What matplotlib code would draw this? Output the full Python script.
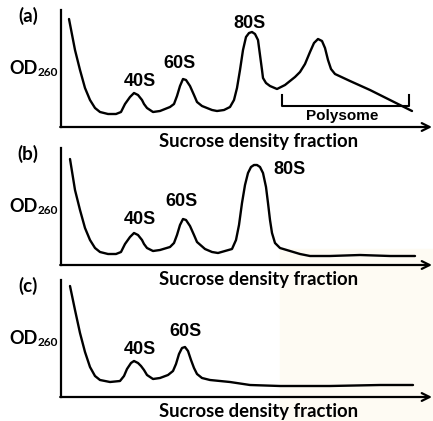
import matplotlib
matplotlib.use("Agg")
import matplotlib.pyplot as plt
from matplotlib.patches import Rectangle

W, H = 433, 421

# curves: fraction position and OD height above the baseline
frac_a = [69, 75, 80, 85, 90, 95, 100, 108, 116, 121, 125, 130, 134, 138, 142, 144,
          147, 153, 160, 170, 174, 177, 180, 183, 186, 190, 194, 197, 202, 207, 212,
          217, 224, 230, 234, 237, 240, 243, 246, 249, 252, 255, 258, 260, 262, 263,
          266, 270, 277, 285, 295, 300, 305, 310, 314, 318, 322, 325, 328, 331, 335,
          350, 370, 390, 412]
od_a = [108, 77, 57, 39, 27, 19, 15, 13, 13, 15, 23, 30, 34, 32, 27, 23,
        19, 15, 16, 20, 23, 31, 41, 48, 47, 41, 32, 25, 21, 19, 17,
        16, 17, 20, 27, 39, 57, 77, 90, 94, 95, 93, 87, 72, 57, 49,
        44, 41, 38, 42, 50, 55, 63, 75, 84, 88, 86, 79, 67, 58, 53,
        46, 37, 27, 16]

frac_b = [70, 75, 80, 85, 90, 95, 100, 108, 116, 121, 125, 130, 134, 138, 142, 144,
          147, 153, 160, 170, 174, 177, 180, 183, 186, 190, 194, 197, 205, 212, 218,
          225, 232, 236, 239, 242, 245, 248, 251, 254, 257, 260, 263, 266, 268, 270,
          272, 275, 280, 290, 300, 310, 330, 360, 390, 415]
od_b = [106, 75, 55, 37, 25, 17, 13, 11, 11, 13, 21, 28, 32, 30, 25, 21,
        17, 14, 15, 18, 22, 30, 40, 46, 45, 39, 30, 23, 16, 13, 12,
        14, 16, 25, 40, 62, 80, 92, 98, 100, 100, 98, 92, 78, 62, 45,
        32, 22, 17, 14, 11, 9, 9, 10, 9, 9]

frac_c = [70, 75, 80, 85, 90, 95, 100, 110, 120, 124, 127, 131, 134, 138, 141, 144,
          147, 153, 160, 168, 173, 176, 179, 182, 185, 188, 191, 194, 197, 202, 210,
          230, 250, 280, 330, 380, 413]
od_c = [111, 87, 64, 45, 30, 21, 17, 15, 16, 21, 28, 34, 36, 34, 31, 27,
        22, 18, 19, 22, 26, 33, 43, 49, 50, 46, 37, 29, 23, 19, 17,
        15, 12, 11, 11, 12, 12]

panels = ["(a)", "(b)", "(c)"]
peak_labels = [
    [("40S", 140, 46), ("60S", 180, 64), ("80S", 250, 104)],
    [("40S", 140, 45), ("60S", 181, 63), ("80S", 290, 96)],
    [("40S", 140, 48), ("60S", 186, 66)],
]
xlabel = "Sucrose density fraction"

# pixel geometry of each panel: baseline y and top of the y axis
axis_y = [127, 265, 397]
axis_top = [10, 148, 280]
x0, x1 = 61, 432

fig = plt.figure(figsize=(W / 100, H / 100), dpi=100)
# faint cream watermark in the lower right
fig.patches.append(Rectangle((280 / W, 0), 1, 172 / H, transform=fig.transFigure,
                             color="#fefbf3", zorder=-10))

curves = [(frac_a, od_a), (frac_b, od_b), (frac_c, od_c)]
for i, (fx, od) in enumerate(curves):
    hgt = axis_y[i] - axis_top[i]
    ax = fig.add_axes([x0 / W, (H - axis_y[i]) / H, (x1 - x0) / W, hgt / H])
    ax.set_xlim(x0, x1)
    ax.set_ylim(0, hgt)
    ax.patch.set_alpha(0)
    for s in ["top", "right", "bottom"]:
        ax.spines[s].set_visible(False)
    ax.spines["left"].set_linewidth(1.6)
    ax.set_xticks([])
    ax.set_yticks([])
    ax.annotate("", xy=(x1, 0), xytext=(x0 - 0.8, 0), annotation_clip=False,
                arrowprops=dict(arrowstyle="->", lw=1.6, color="black",
                                mutation_scale=14, shrinkA=0, shrinkB=0))
    ax.plot(fx, od, color="black", lw=1.7, solid_joinstyle="round",
            solid_capstyle="round", clip_on=False)

    for lab, lx, ly in peak_labels[i]:
        ax.text(lx, ly, lab, family="Liberation Sans", weight="bold", fontsize=13,
                ha="center", va="center", clip_on=False)

    ax.text(28, hgt - 6, panels[i], family="Lato", weight="bold", fontsize=13.5,
            ha="center", va="center", clip_on=False)
    ax.text(9, hgt - 58, "OD", family="Lato", weight="bold", fontsize=13,
            ha="left", va="center", clip_on=False)
    ax.text(38, hgt - 63, "260", family="Lato", weight="bold", fontsize=8.5,
            ha="left", va="center", clip_on=False)
    ax.text(259, -14, xlabel, family="Lato", weight="bold", fontsize=13.3,
            ha="center", va="center", clip_on=False)

    if i == 0:
        # polysome bracket
        ax.plot([282, 282, 409, 409], [32, 21, 21, 32], color="black", lw=1.5,
                clip_on=False)
        ax.text(342, 11, "Polysome", family="Liberation Sans", weight="bold",
                fontsize=11, ha="center", va="center", clip_on=False)

fig.savefig("out.png", dpi=100)
